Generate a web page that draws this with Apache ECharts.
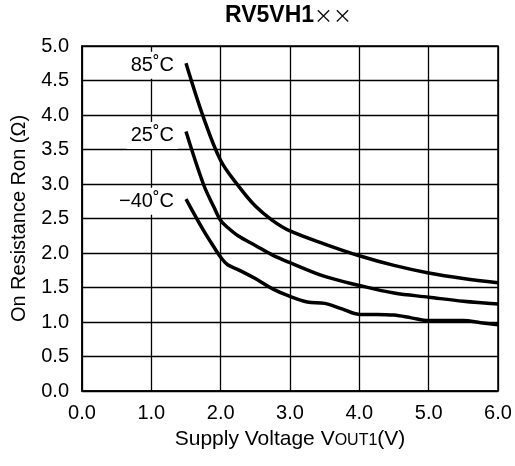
<!DOCTYPE html>
<html>
<head>
<meta charset="utf-8">
<script src="https://cdn.jsdelivr.net/npm/echarts@6/dist/echarts.min.js"></script>
<style>
html,body{margin:0;padding:0;background:#fff;}
#chart{width:515px;height:466px;}
</style>
</head>
<body>
<div id="chart"></div>
<script>
// Data
const titleMain = 'RV5VH1';
const titleSuffix = '××';
const xTicks = [0, 1, 2, 3, 4, 5, 6];
const yTicks = [0, 0.5, 1, 1.5, 2, 2.5, 3, 3.5, 4, 4.5, 5];

const seriesNames = ['85˚C', '25˚C', '−40˚C'];

const t85 = [
  [1.5, 4.75], [1.75, 3.97], [2.0, 3.34], [2.25, 2.98], [2.5, 2.68], [2.75, 2.47],
  [3.0, 2.32], [3.5, 2.13], [4.0, 1.96], [4.5, 1.82], [5.0, 1.71], [5.5, 1.63], [6.0, 1.57]
];
const t25 = [
  [1.5, 3.76], [1.75, 3.0], [1.9, 2.67], [2.0, 2.47], [2.1, 2.37], [2.25, 2.25],
  [2.5, 2.11], [2.75, 1.97], [3.0, 1.86], [3.5, 1.66], [4.0, 1.53], [4.5, 1.42],
  [5.0, 1.36], [5.5, 1.30], [6.0, 1.26]
];
const tm40 = [
  [1.5, 2.78], [1.75, 2.33], [1.9, 2.09], [2.0, 1.94], [2.1, 1.83], [2.25, 1.76],
  [2.5, 1.63], [2.75, 1.48], [3.0, 1.37], [3.25, 1.29], [3.5, 1.27], [3.75, 1.19],
  [4.0, 1.11], [4.25, 1.11], [4.5, 1.10], [4.75, 1.06], [5.0, 1.02], [5.25, 1.02],
  [5.5, 1.02], [5.75, 0.99], [6.0, 0.96]
];
const allSeries = [t85, t25, tm40];

const FONT = '"Liberation Sans", Arial, sans-serif';
const chart = echarts.init(document.getElementById('chart'), null, {renderer: 'canvas'});

const series = allSeries.map((d, i) => ({
  name: seriesNames[i],
  type: 'line',
  data: d,
  smooth: 0.35,
  symbol: 'none',
  lineStyle: {color: '#000', width: 3.5},
  z: 5,
  markPoint: {
    symbol: 'circle',
    symbolSize: 0,
    data: [{coord: d[0]}],
    label: {
      show: true,
      position: 'left',
      distance: 8,
      offset: [0, i === 1 ? 4 : 2],
      formatter: seriesNames[i],
      color: '#000',
      fontSize: 20,
      fontFamily: FONT,
      backgroundColor: '#fff',
      padding: [5, 4, 2, 4]
    },
    z: 10
  }
}));

chart.setOption({
  animation: false,
  backgroundColor: '#fff',
  title: {
    text: '{b|' + titleMain + '}{n|' + titleSuffix + '}',
    top: 4,
    left: 225,
    padding: 0,
    textStyle: {
      rich: {
        b: {fontSize: 23, fontWeight: 'bold', fontFamily: FONT, color: '#000'},
        n: {fontSize: 19, fontWeight: 'normal', fontFamily: '"Noto Sans CJK JP", sans-serif', color: '#000'}
      }
    }
  },
  grid: {
    left: 82, right: 17, top: 46, bottom: 75,
    show: true, borderColor: '#000', borderWidth: 1.5, backgroundColor: 'transparent'
  },
  xAxis: {
    type: 'value',
    min: xTicks[0], max: xTicks[xTicks.length - 1], interval: 1,
    name: 'Supply Voltage V{s|OUT1}(V)',
    nameLocation: 'middle',
    nameGap: 38,
    nameTextStyle: {
      fontSize: 21, fontFamily: FONT, color: '#000',
      rich: {s: {fontSize: 16, fontFamily: FONT, color: '#000', padding: [2, 0, 0, 0]}}
    },
    axisLine: {show: true, lineStyle: {color: '#000', width: 1.5}},
    axisTick: {show: false},
    axisLabel: {fontSize: 20, fontFamily: FONT, color: '#000', margin: 12,
      formatter: v => v.toFixed(1)},
    splitLine: {show: true, lineStyle: {color: '#000', width: 1.3}}
  },
  yAxis: {
    type: 'value',
    min: yTicks[0], max: yTicks[yTicks.length - 1], interval: 0.5,
    name: 'On Resistance Ron (Ω)',
    nameLocation: 'middle',
    nameGap: 53,
    nameTextStyle: {fontSize: 20, fontFamily: FONT, color: '#000'},
    axisLine: {show: true, lineStyle: {color: '#000', width: 1.5}},
    axisTick: {show: false},
    axisLabel: {fontSize: 20, fontFamily: FONT, color: '#000', margin: 13,
      formatter: v => v.toFixed(1)},
    splitLine: {show: true, lineStyle: {color: '#000', width: 1.3}}
  },
  series: series
});
</script>
</body>
</html>
